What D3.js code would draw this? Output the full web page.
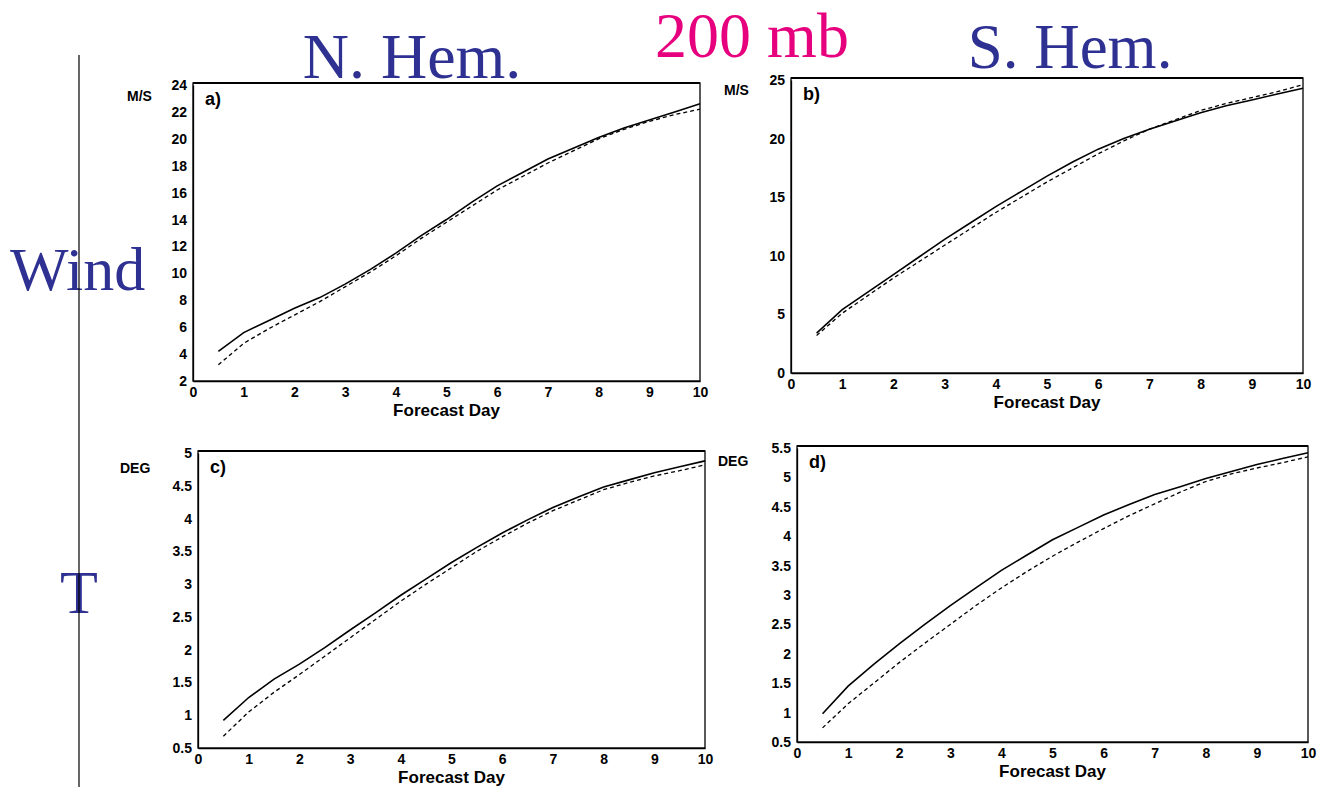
<!DOCTYPE html>
<html>
<head>
<meta charset="utf-8">
<script src="https://cdn.jsdelivr.net/npm/d3@7"></script>
<style>
  body { margin: 0; background: #fff; }
  svg { display: block; }
</style>
</head>
<body>
<svg id="chart" width="1319" height="789"></svg>
<script>
// forecast days
var days = [0.5, 1, 1.5, 2, 2.5, 3, 3.5, 4, 4.5, 5, 5.5, 6, 6.5, 7, 7.5, 8, 8.5, 9, 9.5, 10];
var dayTicks = [0, 1, 2, 3, 4, 5, 6, 7, 8, 9, 10];

// a) N. Hem. wind
var windNHSolid  = [4.2, 5.6, 6.5, 7.4, 8.2, 9.2, 10.3, 11.5, 12.8, 14.0, 15.3, 16.5, 17.5, 18.5, 19.3, 20.1, 20.8, 21.4, 22.0, 22.6];
var windNHDashed = [3.2, 4.8, 5.9, 6.9, 7.9, 9.0, 10.1, 11.3, 12.6, 13.8, 15.0, 16.2, 17.2, 18.2, 19.1, 20.0, 20.7, 21.3, 21.8, 22.2];
var windNHTicks  = [2, 4, 6, 8, 10, 12, 14, 16, 18, 20, 22, 24];

// b) S. Hem. wind
var windSHSolid  = [3.4, 5.4, 6.9, 8.4, 9.9, 11.4, 12.8, 14.2, 15.5, 16.8, 18.0, 19.1, 20.0, 20.8, 21.5, 22.2, 22.8, 23.3, 23.8, 24.3];
var windSHDashed = [3.2, 5.1, 6.6, 8.1, 9.5, 10.9, 12.3, 13.7, 15.0, 16.3, 17.5, 18.7, 19.8, 20.8, 21.6, 22.4, 23.0, 23.5, 24.0, 24.6];
var windSHTicks  = [0, 5, 10, 15, 20, 25];

// c) N. Hem. temperature
var tempNHSolid  = [0.92, 1.27, 1.55, 1.78, 2.03, 2.30, 2.56, 2.83, 3.08, 3.33, 3.56, 3.78, 3.98, 4.17, 4.33, 4.48, 4.59, 4.70, 4.79, 4.88];
var tempNHDashed = [0.68, 1.05, 1.35, 1.62, 1.90, 2.18, 2.46, 2.74, 3.00, 3.25, 3.50, 3.72, 3.93, 4.12, 4.28, 4.44, 4.55, 4.65, 4.73, 4.82];
var tempNHTicks  = [0.5, 1, 1.5, 2, 2.5, 3, 3.5, 4, 4.5, 5];

// d) S. Hem. temperature
var tempSHSolid  = [0.98, 1.45, 1.82, 2.17, 2.50, 2.82, 3.12, 3.42, 3.68, 3.94, 4.15, 4.36, 4.54, 4.71, 4.84, 4.98, 5.10, 5.22, 5.32, 5.42];
var tempSHDashed = [0.74, 1.15, 1.50, 1.85, 2.18, 2.50, 2.82, 3.12, 3.40, 3.66, 3.90, 4.13, 4.35, 4.55, 4.75, 4.93, 5.06, 5.16, 5.25, 5.35];
var tempSHTicks  = [0.5, 1, 1.5, 2, 2.5, 3, 3.5, 4, 4.5, 5, 5.5];

var svg = d3.select("#chart");
var tickFont = "'Liberation Sans', Arial, sans-serif";
var titleFont = "'Liberation Serif', 'Times New Roman', serif";

function drawPanel(cfg) {
    var x = d3.scaleLinear().domain([0, 10]).range([cfg.left, cfg.right]);
    var y = d3.scaleLinear().domain([cfg.ticks[0], cfg.ticks[cfg.ticks.length - 1]]).range([cfg.bottom, cfg.top]);
    var g = svg.append("g");

    // frame
    g.append("rect")
        .attr("x", cfg.left)
        .attr("y", cfg.top - 2)
        .attr("width", cfg.right - cfg.left)
        .attr("height", cfg.bottom - cfg.top + 2)
        .attr("fill", "none")
        .attr("stroke", "#000")
        .attr("stroke-width", 1.3);
    g.append("line")
        .attr("x1", cfg.left).attr("x2", cfg.right)
        .attr("y1", cfg.top - 2).attr("y2", cfg.top - 2)
        .attr("stroke", "#000").attr("stroke-width", 2.2);

    var xAxis = g.append("g")
        .attr("transform", "translate(0," + cfg.bottom + ")")
        .call(d3.axisBottom(x).tickValues(dayTicks).tickSize(0).tickPadding(6).tickFormat(d3.format("")));
    var yAxis = g.append("g")
        .attr("transform", "translate(" + cfg.left + ",0)")
        .call(d3.axisLeft(y).tickValues(cfg.ticks).tickSize(0).tickPadding(6).tickFormat(d3.format("")));
    [xAxis, yAxis].forEach(function(a) {
        a.select(".domain").attr("stroke-width", 1.3);
        a.selectAll("text")
            .attr("font-family", tickFont)
            .attr("font-weight", "bold")
            .attr("font-size", 14)
            .attr("fill", "#000");
    });

    var line = d3.line()
        .x(function(d, i) { return x(days[i]); })
        .y(function(d) { return y(d); });

    g.append("path")
        .attr("d", line(cfg.dashed))
        .attr("fill", "none")
        .attr("stroke", "#000")
        .attr("stroke-width", 1.3)
        .attr("stroke-dasharray", "4,3");
    g.append("path")
        .attr("d", line(cfg.solid))
        .attr("fill", "none")
        .attr("stroke", "#000")
        .attr("stroke-width", 1.6);

    g.append("text")
        .attr("x", cfg.unitX).attr("y", cfg.unitY)
        .attr("font-family", tickFont).attr("font-weight", "bold").attr("font-size", 14)
        .text(cfg.unit);
    g.append("text")
        .attr("x", cfg.left + 12).attr("y", cfg.top + 20)
        .attr("font-family", tickFont).attr("font-weight", "bold").attr("font-size", 18)
        .text(cfg.letter);
    g.append("text")
        .attr("x", (cfg.left + cfg.right) / 2).attr("y", cfg.bottom + 35)
        .attr("text-anchor", "middle")
        .attr("font-family", tickFont).attr("font-weight", "bold").attr("font-size", 17)
        .text("Forecast Day");
}

drawPanel({ left: 193, right: 700, top: 85, bottom: 381, ticks: windNHTicks,
    solid: windNHSolid, dashed: windNHDashed, unit: "M/S", unitX: 127, unitY: 101, letter: "a)" });
drawPanel({ left: 791, right: 1303, top: 80, bottom: 373, ticks: windSHTicks,
    solid: windSHSolid, dashed: windSHDashed, unit: "M/S", unitX: 724, unitY: 95, letter: "b)" });
drawPanel({ left: 198, right: 705, top: 453, bottom: 748, ticks: tempNHTicks,
    solid: tempNHSolid, dashed: tempNHDashed, unit: "DEG", unitX: 120, unitY: 473, letter: "c)" });
drawPanel({ left: 797, right: 1308, top: 448, bottom: 742, ticks: tempSHTicks,
    solid: tempSHSolid, dashed: tempSHDashed, unit: "DEG", unitX: 718, unitY: 466, letter: "d)" });

// titles
var navy = "#2e3192";
svg.append("text").attr("x", 412).attr("y", 78).attr("text-anchor", "middle")
    .attr("font-family", titleFont).attr("font-size", 64).attr("fill", navy).text("N. Hem.");
svg.append("text").attr("x", 752).attr("y", 57).attr("text-anchor", "middle")
    .attr("font-family", titleFont).attr("font-size", 64).attr("fill", "#e6007e").text("200 mb");
svg.append("text").attr("x", 1070).attr("y", 68).attr("text-anchor", "middle")
    .attr("font-family", titleFont).attr("font-size", 63).attr("fill", navy).text("S. Hem.");
svg.append("text").attr("x", 10).attr("y", 290)
    .attr("font-family", titleFont).attr("font-size", 62).attr("fill", navy).text("Wind");
svg.append("text").attr("x", 60).attr("y", 613)
    .attr("font-family", titleFont).attr("font-size", 62).attr("fill", navy).text("T");

// left divider
svg.append("line").attr("x1", 79).attr("x2", 79).attr("y1", 55).attr("y2", 787)
    .attr("stroke", "#000").attr("stroke-width", 1.2);
</script>
</body>
</html>
